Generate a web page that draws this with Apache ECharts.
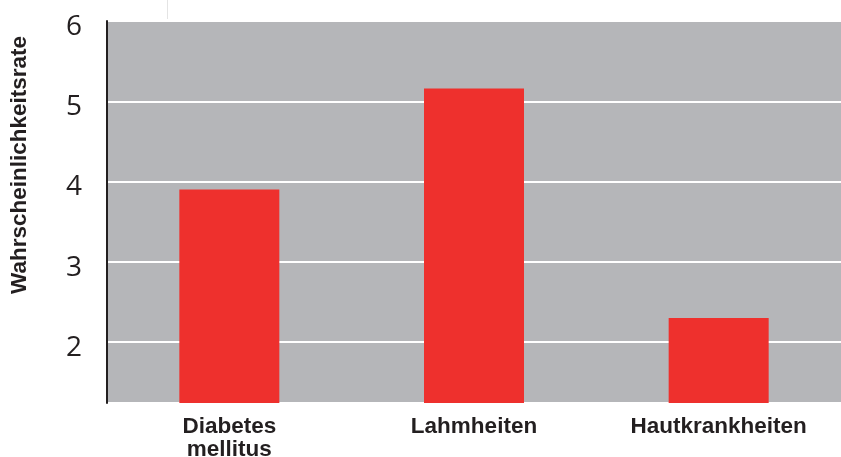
<!DOCTYPE html>
<html>
<head>
<meta charset="utf-8">
<script src="https://cdn.jsdelivr.net/npm/echarts@6/dist/echarts.min.js"></script>
<style>
html,body{margin:0;padding:0;background:#fff;}
#c{width:841px;height:457px;}
</style>
</head>
<body>
<div id="c"></div>
<script>
const categories = ['Diabetes\nmellitus', 'Lahmheiten', 'Hautkrankheiten'];
const values = [3.9, 5.16, 2.3];
const yAxisTitle = 'Wahrscheinlichkeitsrate';

const chart = echarts.init(document.getElementById('c'), null, {renderer: 'canvas'});
chart.setOption({
  animation: false,
  backgroundColor: '#ffffff',
  graphic: [{
    type: 'line', silent: true,
    shape: {x1: 167.5, y1: 0, x2: 167.5, y2: 19},
    style: {stroke: '#e4e4e4', lineWidth: 1}
  }],
  grid: {
    left: 107, right: 0, top: 21, bottom: 54,
    outerBoundsMode: 'none',
    containLabel: false,
    show: true, backgroundColor: '#b5b6b9', borderWidth: 0
  },
  xAxis: {
    type: 'category',
    data: categories,
    axisLine: {show: false},
    axisTick: {show: false},
    axisLabel: {
      margin: 12,
      fontFamily: 'Liberation Sans, Arial, sans-serif',
      fontWeight: 'bold',
      fontSize: 22.5,
      lineHeight: 23,
      color: '#231f20'
    }
  },
  yAxis: {
    type: 'value',
    min: 1.24,
    max: 6,
    splitNumber: 5,
    name: yAxisTitle,
    nameLocation: 'middle',
    nameRotate: 90,
    nameGap: 76,
    nameTextStyle: {
      fontFamily: 'Liberation Sans, Arial, sans-serif',
      fontWeight: 'bold',
      fontSize: 22.5,
      color: '#231f20',
      padding: [0, 0, 0, 94]
    },
    axisLine: {show: true, lineStyle: {color: '#231f20', width: 2}},
    axisTick: {show: false},
    axisLabel: {
      showMinLabel: false,
      margin: 25,
      fontFamily: 'Open Sans, sans-serif',
      fontWeight: 'normal',
      fontSize: 28,
      color: '#231f20',
      formatter: function (v) { return Number.isInteger(v) ? '{n|' + v + '}' : ''; },
      rich: {
        n: {
          fontFamily: 'Open Sans, sans-serif',
          fontSize: 28,
          color: '#231f20',
          padding: [12, 0, 0, 0]
        }
      }
    },
    splitLine: {show: true, lineStyle: {color: '#ffffff', width: 2}}
  },
  series: [{
    type: 'bar',
    data: values,
    barWidth: 100,
    itemStyle: {color: '#ee302d'}
  }]
});
</script>
</body>
</html>
